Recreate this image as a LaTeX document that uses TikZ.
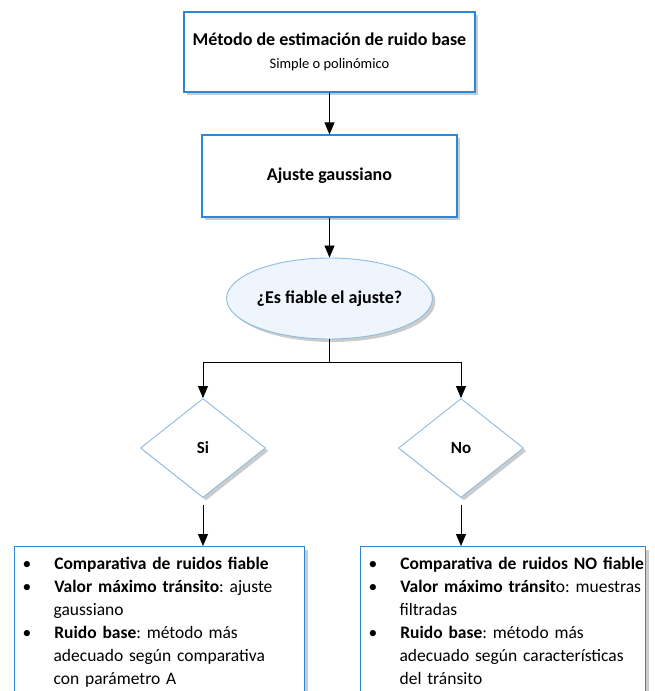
\documentclass[tikz,border=0pt]{standalone}
\usepackage{fontspec}
\setmainfont{Carlito}
\usepackage{enumitem}
\usetikzlibrary{arrows.meta,shapes.geometric,shadows}

\definecolor{boxblue}{HTML}{2E86D4}
\definecolor{lineblue}{HTML}{8CBCE3}
\definecolor{ovalfill}{HTML}{EEF5FC}

\setlist[itemize]{leftmargin=35pt, labelwidth=8pt, labelsep=23pt, align=left,
  itemsep=0pt, topsep=0pt, parsep=0pt, partopsep=0pt}
\frenchspacing

\begin{document}
\begin{tikzpicture}[x=1pt,y=-1pt,
    shade/.style={drop shadow={shadow xshift=3pt, shadow yshift=-3pt, fill=black, opacity=.2}},
    box/.style={rectangle, draw=boxblue, line width=1.2pt, fill=white, shade},
    oval/.style={ellipse, draw=lineblue, line width=.9pt, fill=ovalfill, shade,
      minimum width=205pt, minimum height=81pt, inner sep=0pt},
    decision/.style={diamond, draw=lineblue, line width=.9pt, fill=white, shade,
      minimum width=125pt, minimum height=99pt, inner sep=0pt, aspect=1.26},
    listbox/.style={box, anchor=north west, align=left, inner xsep=4pt, inner ysep=0pt,
      font=\fontsize{17.5}{23}\selectfont},
    arrow/.style={-{Triangle[length=12pt,width=10pt]}, line width=.8pt}]

    \useasboundingbox (0,0) rectangle (654,691);
    \clip (0,0) rectangle (654,691);

    % Top boxes
    \node[box, minimum width=291pt, minimum height=80pt, align=center] (Method) at (329.5,52)
        {\fontsize{18}{20}\selectfont\bfseries Método de estimación de ruido base\\[11pt]
         \fontsize{14.5}{16}\selectfont Simple o polinómico};
    \node[box, minimum width=255pt, minimum height=82pt] (Fit) at (329.5,176)
        {\fontsize{18}{20}\selectfont\bfseries Ajuste gaussiano};

    % Question
    \node[oval] (Reliable) at (329.5,298.5)
        {\fontsize{18}{20}\selectfont\bfseries ¿Es fiable el ajuste?};
    \coordinate (Fork) at (329.5,362);

    % Answers
    \foreach \name/\i/\x in {Si/1/203, No/2/461} {
        \node[decision] (Answer-\i) at (\x,448) {\fontsize{17}{19}\selectfont\bfseries \name};
    }

    % Result lists (they run on past the bottom edge)
    \node[listbox, text width=282pt] (Result-1) at (14,546) {%
        \begin{itemize}
        \item \textbf{Comparativa de ruidos fiable}
        \item \textbf{Valor máximo tránsito}: ajuste\\ gaussiano
        \item \textbf{Ruido base}: método más\\ adecuado según comparativa\\ con parámetro A
        \end{itemize}\par\rule{0pt}{30pt}};
    \node[listbox, text width=277pt] (Result-2) at (360,546) {%
        \begin{itemize}
        \item \leavevmode\rlap{\textbf{Comparativa de ruidos NO fiable}}
        \item \textbf{Valor máximo tránsit}o: muestras\\ filtradas
        \item \textbf{Ruido base}: método más\\ adecuado según características\\ del tránsito
        \end{itemize}\par\rule{0pt}{30pt}};

    % Arrows
    \draw[arrow] (Method) -- (Fit);
    \draw[arrow] (Fit) -- (Reliable);
    \draw[line width=.8pt] (Reliable) -- (Fork);
    \foreach \i in {1,2} {
        \draw[arrow] (Fork) -| (Answer-\i.north);
        \draw[arrow, shorten <=7pt] (Answer-\i.south) -- (Result-\i.north -| Answer-\i.south);
    }
\end{tikzpicture}
\end{document}
